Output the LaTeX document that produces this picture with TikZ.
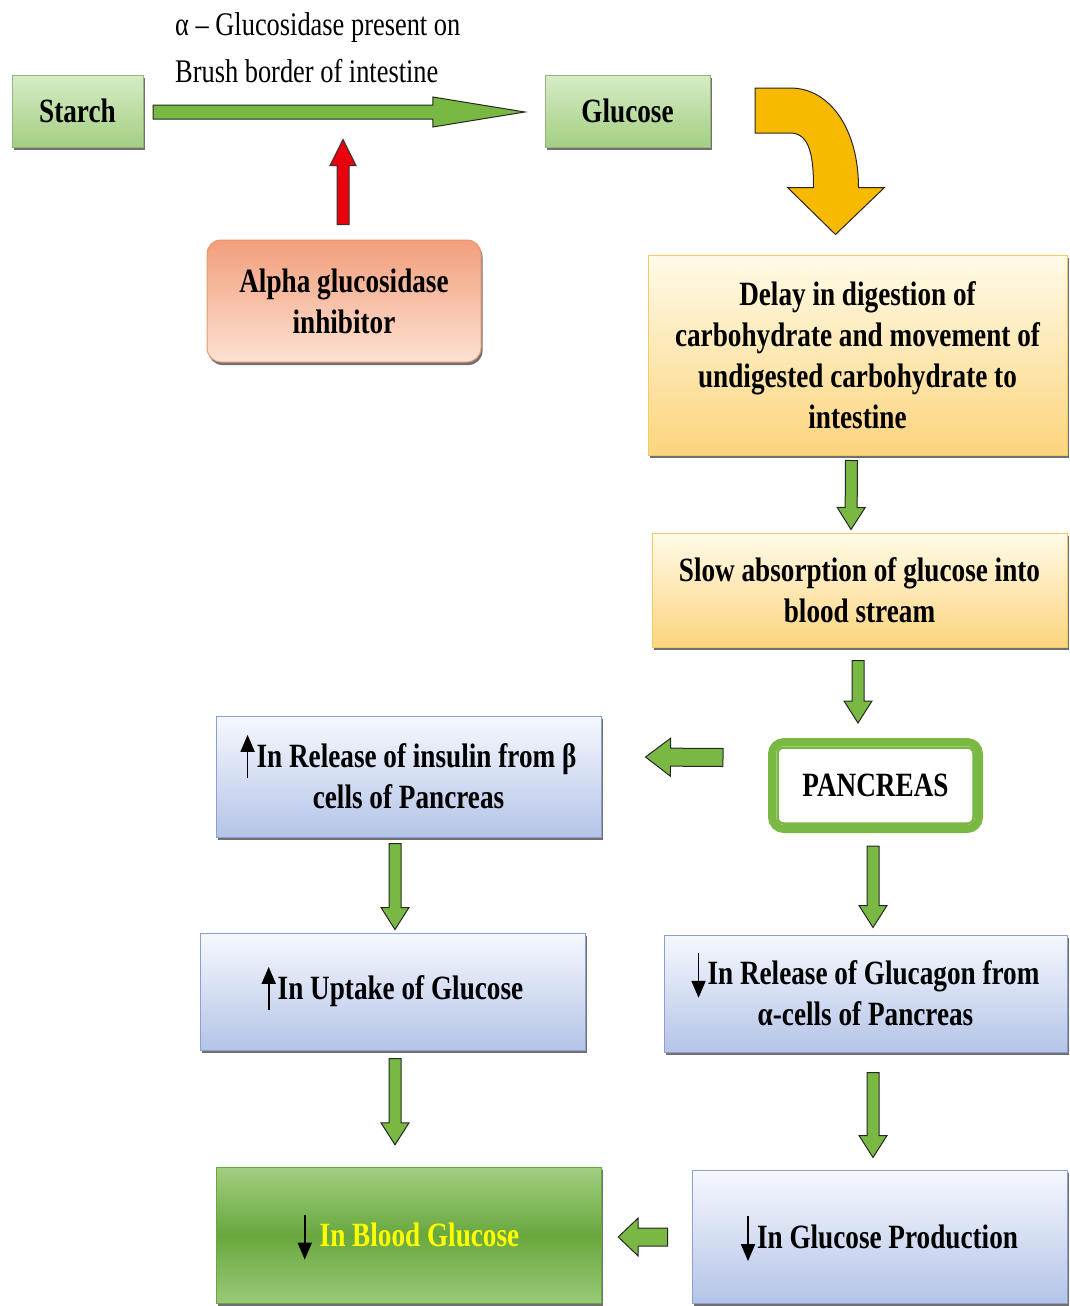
\documentclass[tikz,border=0pt]{standalone}
\usepackage{fontspec}
\setmainfont{Liberation Serif}[FakeStretch=0.8]
\usepackage{xcolor}
\usetikzlibrary{calc,shadows,arrows.meta}
\definecolor{leafGreen}{RGB}{121,185,67}
\definecolor{leafGreenLight}{RGB}{214,236,198}
\definecolor{leafGreenMid}{RGB}{163,207,130}
\definecolor{leafGreenDark}{RGB}{104,168,62}
\definecolor{leafEdge}{RGB}{150,180,125}
\definecolor{sunYellow}{RGB}{248,186,0}
\definecolor{creamTop}{RGB}{255,251,232}
\definecolor{creamBottom}{RGB}{252,212,125}
\definecolor{creamEdge}{RGB}{240,205,100}
\definecolor{skyTop}{RGB}{246,248,253}
\definecolor{skyBottom}{RGB}{180,196,232}
\definecolor{skyEdge}{RGB}{140,160,208}
\definecolor{peachTop}{RGB}{242,158,124}
\definecolor{peachBottom}{RGB}{252,226,210}
\definecolor{peachEdge}{RGB}{230,150,112}
\definecolor{alarmRed}{RGB}{232,0,12}
\definecolor{textYellow}{RGB}{255,255,0}
\newcommand\boxfont{\bfseries\fontsize{34}{41}\selectfont}
\newcommand\uparr{\smash{\tikz[baseline=0pt, x=1pt, y=1pt]
  \draw[black, line width=1.8pt, -{Triangle[width=14pt, length=17pt]}] (0,-10) -- (0,33);}\hspace{2pt}}
\newcommand\downarr{\smash{\tikz[baseline=0pt, x=1pt, y=1pt]
  \draw[black, line width=1.8pt, -{Triangle[width=14pt, length=17pt]}] (0,32) -- (0,-13);}\hspace{2pt}}
\newcommand\blockarrow[6][]{%
  \coordinate (tipbase) at ($(#3)!#6!(#2)$);
  \draw[#1] ($(#2)!#4!90:(#3)$) -- ($(tipbase)!#4!90:(#3)$) -- ($(tipbase)!#5!90:(#3)$)
    -- (#3) -- ($(tipbase)!#5!-90:(#3)$) -- ($(tipbase)!#4!-90:(#3)$) -- ($(#2)!#4!-90:(#3)$) -- cycle;
}
\tikzset{
  box/.style={draw, inner sep=0pt, align=center, font=\boxfont,
    drop shadow={shadow xshift=1.5pt, shadow yshift=-3pt, fill=black!70, opacity=0.8}},
  greenbox/.style={box, draw=leafEdge, top color=leafGreenLight, bottom color=leafGreenMid},
  creambox/.style={box, draw=creamEdge, line width=1pt, top color=creamTop, bottom color=creamBottom},
  skybox/.style={box, draw=skyEdge, line width=1pt, top color=skyTop, bottom color=skyBottom},
  garrow/.style={draw=black!85, line width=1pt, fill=leafGreen, line join=miter}
}

\begin{document}
\begin{tikzpicture}[x=1pt, y=-1pt]
\useasboundingbox (0,0) rectangle (1069,1306);

\node[greenbox, minimum width=131pt, minimum height=72pt] (starch) at (77.5,111) {Starch};
\node[greenbox, minimum width=165pt, minimum height=72pt] (glucose) at (627.5,111) {Glucose};
\node[anchor=west, align=left, inner sep=0pt, font=\fontsize{33}{47}\selectfont] (enzyme) at (175,48)
  {α – Glucosidase present on\\Brush border of intestine};
\node[box, draw=peachEdge, line width=1pt, rounded corners=14pt, top color=peachTop, bottom color=peachBottom,
  minimum width=274pt, minimum height=122pt] (inhib) at (344,301) {Alpha glucosidase\\inhibitor};

\node[creambox, minimum width=419pt, minimum height=200pt] (delay) at (857.5,355)
  {Delay in digestion of\\carbohydrate and movement of\\undigested carbohydrate to\\intestine};
\node[creambox, minimum width=415pt, minimum height=114pt] (slow) at (859.5,590)
  {Slow absorption of glucose into\\blood stream};
\node[draw=leafGreen, line width=8pt, rounded corners=12pt, fill=white, inner sep=0pt, font=\boxfont,
  minimum width=207pt, minimum height=87pt] (pancreas) at (875.5,785.5) {PANCREAS};
\draw[leafGreen, line width=2.5pt, rounded corners=6pt]
  ($(pancreas.south west)+(9.5,-9.5)$) rectangle ($(pancreas.north east)+(-9.5,9.5)$);

\node[skybox, minimum width=385pt, minimum height=121pt] (insulin) at (408.5,776.5)
  {\uparr In Release of insulin from β\\cells of Pancreas};
\node[skybox, minimum width=385pt, minimum height=117pt] (uptake) at (392.5,991.5)
  {\uparr In Uptake of Glucose};
\node[box, draw=leafGreenDark, top color=leafGreenMid, bottom color=leafGreenMid!85!leafGreenDark,
  middle color=leafGreenDark, text=textYellow, minimum width=385pt, minimum height=136pt] (blood) at (408.5,1235)
  {\downarr\hspace{6pt}In Blood Glucose};
\node[skybox, minimum width=403pt, minimum height=117pt] (glucagon) at (865.5,993.5)
  {\downarr In Release of Glucagon from\\α-cells of Pancreas};
\node[skybox, minimum width=375pt, minimum height=133pt] (glucprod) at (879.5,1236.5)
  {\downarr In Glucose Production};

\coordinate (m0s) at ($(starch.east)+(10,1)$);
\coordinate (m0e) at ($(glucose.west)+(-20,1)$);
\coordinate (r0s) at ($(inhib.north)+(-1,-15)$);
\coordinate (r0e) at ($(inhib.north)+(-1,-100)$);
\coordinate (a1s) at ($(delay.south)+(-6,5)$);
\coordinate (a1e) at ($(slow.north)+(-8.5,-3)$);
\coordinate (a2s) at ($(slow.south)+(-1.5,13)$);
\coordinate (a2e) at ($(pancreas.north)+(-17.5,-15)$);
\coordinate (a3s) at ($(pancreas.west)+(-45,-28)$);
\coordinate (a3e) at ($(insulin.east)+(44,-19.5)$);
\coordinate (a4s) at ($(insulin.south)+(-13.5,6)$);
\coordinate (a4e) at ($(uptake.north)+(2.5,-3)$);
\coordinate (a5s) at ($(uptake.south)+(2.5,8)$);
\coordinate (a5e) at ($(blood.north)+(-13.5,-22)$);
\coordinate (a6s) at ($(pancreas.south)+(-2.5,13)$);
\coordinate (a6e) at ($(glucagon.north)+(7.5,-7)$);
\coordinate (a7s) at ($(glucagon.south)+(7.5,20)$);
\coordinate (a7e) at ($(glucprod.north)+(-6.5,-12)$);
\coordinate (a8s) at ($(glucprod.west)+(-24,0.5)$);
\coordinate (a8e) at ($(blood.east)+(17,2)$);

\blockarrow[garrow]{m0s}{m0e}{7pt}{15pt}{92pt}
\blockarrow[draw=black!80, line width=1pt, fill=alarmRed]{r0s}{r0e}{6pt}{13pt}{26pt}
\blockarrow[garrow]{a1s}{a1e}{6pt}{14pt}{22pt}
\blockarrow[garrow]{a2s}{a2e}{6pt}{14pt}{22pt}
\blockarrow[garrow]{a3s}{a3e}{9pt}{19pt}{25pt}
\blockarrow[garrow]{a4s}{a4e}{6pt}{14pt}{22pt}
\blockarrow[garrow]{a5s}{a5e}{6pt}{14pt}{22pt}
\blockarrow[garrow]{a6s}{a6e}{6pt}{14pt}{22pt}
\blockarrow[garrow]{a7s}{a7e}{6pt}{14pt}{22pt}
\blockarrow[garrow]{a8s}{a8e}{9pt}{19pt}{20pt}

\coordinate (cs) at ($(glucose.east)+(45,-23)$);
\coordinate (ct) at ($(delay.north)+(-22,-20)$);
\draw[draw=black!85, line width=1pt, fill=sunYellow] (cs) -- ++(35,0)
  .. controls +(40,0) and +(0,-58) .. ($(ct)+(23,-47)$) -- ($(ct)+(49,-47)$) -- (ct)
  -- ($(ct)+(-48,-47)$) -- ($(ct)+(-22,-47)$)
  .. controls +(0,-30) and +(20,0) .. ($(cs)+(35,45)$) -- ($(cs)+(0,45)$) -- cycle;
\end{tikzpicture}
\end{document}
